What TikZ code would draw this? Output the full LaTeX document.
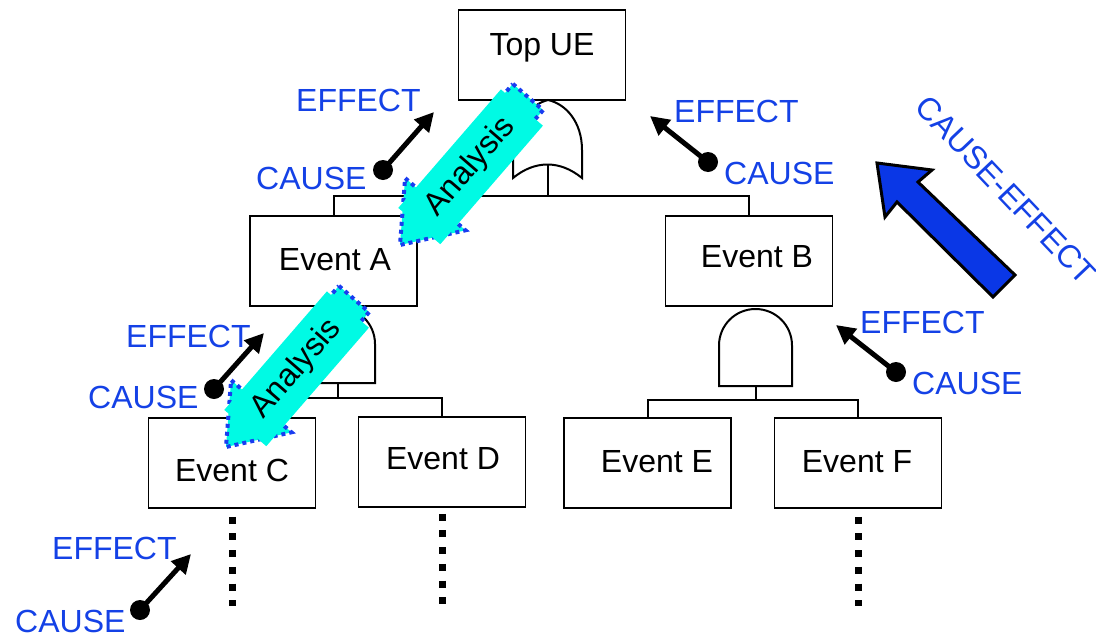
\documentclass[tikz,border=0pt]{standalone}
\usepackage{fontspec}
\setmainfont{Liberation Sans}
\usetikzlibrary{arrows.meta}
\definecolor{txtblue}{RGB}{20,65,230}
\definecolor{arrblue}{RGB}{10,55,230}
\definecolor{dotblue}{RGB}{25,60,240}
\definecolor{aqua}{RGB}{0,250,228}
\begin{document}
\begin{tikzpicture}[x=1pt,y=-1pt,
  every node/.style={font=\fontsize{32}{38}\selectfont},
  box/.style={draw,line width=1.5pt,minimum width=167pt,minimum height=90pt,inner sep=0pt},
  gate/.style={draw,line width=2pt,fill=white},
  wire/.style={line width=2pt},
  ce/.style={text=txtblue,anchor=base west,inner sep=0pt},
  cearrow/.style={line width=5pt,-{Triangle[length=19pt,width=19pt]}},
  cedot/.style={circle,fill=black,minimum size=20pt,inner sep=0pt},
  vdots/.style={line width=7pt,dash pattern=on 7pt off 9.7pt},
  anarrow/.style={fill=aqua,draw=dotblue,line width=4pt,dash pattern=on 4pt off 4pt},
  ]
\useasboundingbox (0,0) rectangle (1096,635);
% boxes
\node[box,label={[name=topT,yshift=7pt]center:Top UE}] (top) at (542,55) {};
\node[box,label={[name=AT,xshift=1.5pt,yshift=1pt]center:Event A}] (A) at (333.5,261) {};
\node[box,label={[name=BT,xshift=8pt,yshift=4pt]center:Event B}] (B) at (749,261) {};
\node[box,label={[name=CT,yshift=-7pt]center:Event C}] (C) at (232,463) {};
\node[box,label={[name=DT,xshift=1pt,yshift=3pt]center:Event D}] (D) at (442,462) {};
\node[box,label={[name=ET,xshift=9.5pt,yshift=1pt]center:Event E}] (E) at (647.5,463) {};
\node[box,label={[name=FT,xshift=-1pt,yshift=1pt]center:Event F}] (F) at (858,463) {};
% OR gate
\draw[gate] (513,178) -- (513,150) .. controls (513,122) and (532,104) .. (548,100)
  .. controls (566,104) and (582,122) .. (582,150) -- (582,178)
  .. controls (560,160) and (535,160) .. (513,178) -- cycle;
\coordinate (orOut) at (548,165);
\coordinate (orBus) at (548,196);
\draw[wire] (orOut) -- (orBus);
\draw[wire] (A.north) |- (orBus) -| (B.north);
% AND gate A
\draw[gate] (301,383) -- (301,344) .. controls (301,323.6) and (317.6,307) .. (338,307)
  .. controls (358.4,307) and (375,323.6) .. (375,344) -- (375,383) -- cycle;
\coordinate (andAout) at (338,383);
\coordinate (andAbus) at (338,398);
\draw[wire] (andAout) -- (andAbus);
\draw[wire] (C.north) |- (andAbus) -| (D.north);
% AND gate B
\draw[gate] (719,386) -- (719,345.5) .. controls (719,325.3) and (735.3,309) .. (755.5,309)
  .. controls (775.7,309) and (792,325.3) .. (792,345.5) -- (792,386) -- cycle;
\coordinate (andBout) at (755.5,386);
\coordinate (andBbus) at (755.5,400);
\draw[wire] (andBout) -- (andBbus);
\draw[wire] (E.north) |- (andBbus) -| (F.north);
% continuation dots
\draw[vdots] ([yshift=-8pt]C.south) -- ++(0,89);
\draw[vdots] ([yshift=-6pt]D.south) -- ++(0,90);
\draw[vdots] ([yshift=-8pt]F.south) -- ++(0,89);
% cause-effect small arrows
\foreach \i/\ex/\ey/\cx/\cy/\dx/\dy/\tx/\ty in {
  1/296/111.5/256/189.5/383/170/434/112,
  2/674/122.5/724/184.5/708/162/650/116,
  3/126/347.5/88/408.5/214/389/264/333,
  4/860/333.5/912/394.5/896/372/836/325,
  5/52/559.5/15/632.5/140/610/191/554}{
  \node[ce] (eff\i) at (\ex,\ey) {EFFECT};
  \node[ce] (cau\i) at (\cx,\cy) {CAUSE};
  \node[cedot] (dot\i) at (\dx,\dy) {};
  \coordinate (tip\i) at (\tx,\ty);
  \draw[cearrow] (dot\i.center) -- (tip\i);
}
% analysis arrows
\foreach \sx/\sy [count=\i] in {0/0,-174/202}{
  \begin{scope}[shift={(\sx,\sy)}]
    \draw[anarrow] (512.9,83.9) -- (543.1,110.1) -- (450.4,217.3) -- (465.5,230.3)
      -- (400,245) -- (405.1,178.1) -- (420.2,191.1) -- cycle;
    \fill[aqua] (500.9,89.4) -- (542.9,125.7) -- (440.3,244.2) -- (398.3,207.9) -- cycle;
    \node[rotate=49.1] (an\i) at (470.6,166.8) {Analysis};
  \end{scope}
}
% big cause-effect arrow
\draw[line width=3pt,fill=arrblue,line join=miter] (877,163) -- (932,170) -- (918,182)
  -- (1015,275) -- (993,297) -- (897,202) -- (885,217) -- cycle;
\node[text=txtblue,rotate=-46.5] (celabel) at (1006,190) {CAUSE-EFFECT};
\end{tikzpicture}
\end{document}
